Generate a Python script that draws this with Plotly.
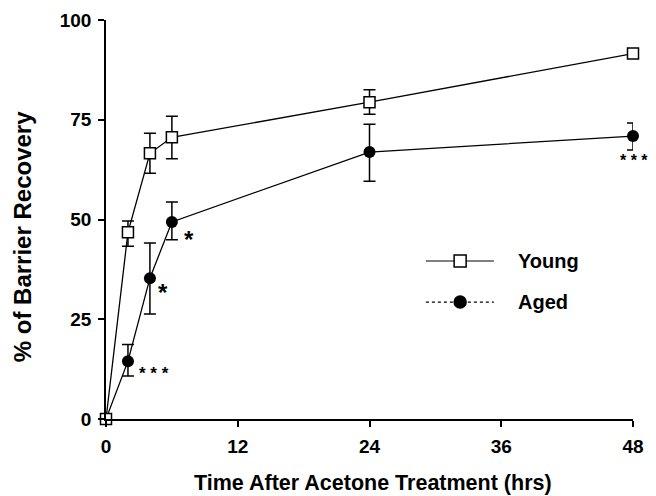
import plotly.graph_objects as go

hours = [0, 2, 4, 6, 24, 48]
young = [0, 46.8, 66.6, 70.6, 79.4, 91.6]
young_up = [0, 2.8, 5.0, 5.3, 3.1, 0]
young_dn = [0, 3.5, 5.0, 5.4, 3.0, 0]
aged = [0, 14.5, 35.3, 49.4, 66.9, 70.9]
aged_up = [0, 4.2, 8.8, 5.0, 7.0, 3.3]
aged_dn = [0, 3.7, 9.0, 4.5, 7.3, 3.5]

stars = ["* * *", "*", "*", "* * *"]
star_x = [2.8, 5.2, 7.6, 48]
star_y = [11.5, 31.8, 45.1, 64.9]
star_size = [17, 24, 24, 16]
star_anchor = ["left", "center", "center", "center"]
star_shift = [0, 0, 0, 1]

FONT = "Liberation Sans"

fig = go.Figure()
fig.add_trace(go.Scatter(
    x=hours, y=aged, mode="lines+markers", name="Aged",
    line=dict(color="black", width=1.3),
    marker=dict(symbol="circle", size=12, color="black"),
    error_y=dict(type="data", symmetric=False, array=aged_up, arrayminus=aged_dn,
                 color="black", thickness=1.5, width=6),
    cliponaxis=False, showlegend=False))
fig.add_trace(go.Scatter(
    x=hours, y=young, mode="lines+markers", name="Young",
    line=dict(color="black", width=1.3),
    marker=dict(symbol="square", size=11, color="white", line=dict(color="black", width=1.5)),
    error_y=dict(type="data", symmetric=False, array=young_up, arrayminus=young_dn,
                 color="black", thickness=1.5, width=6),
    cliponaxis=False, showlegend=False))

for t, xx, yy, sz, an, sh in zip(stars, star_x, star_y, star_size, star_anchor, star_shift):
    fig.add_annotation(x=xx, y=yy, xref="x", yref="y", text=t, showarrow=False,
                       xanchor=an, yanchor="middle", xshift=sh,
                       font=dict(family=FONT, size=sz, color="black", weight="bold"))

# manual legend
leg = [("Young", 0.396, "solid", "rect", "white"), ("Aged", 0.293, "dot", "circle", "black")]
for name, yy, dash, shp, fill in leg:
    fig.add_shape(type="line", xref="paper", yref="paper", x0=0.607, x1=0.736, y0=yy, y1=yy,
                  line=dict(color="black", width=1.2, dash=dash))
    fig.add_shape(type=shp, xref="paper", yref="paper", xsizemode="pixel", ysizemode="pixel",
                  xanchor=0.672, yanchor=yy, x0=-6, x1=6, y0=-6, y1=6,
                  fillcolor=fill, line=dict(color="black", width=1.5))
    fig.add_annotation(x=0.778, y=yy, xref="paper", yref="paper", text=name, showarrow=False,
                       xanchor="left", yanchor="middle",
                       font=dict(family=FONT, size=20, color="black", weight="bold"))

# axis titles
fig.add_annotation(x=0.507, y=-0.16, xref="paper", yref="paper",
                   text="Time After Acetone Treatment (hrs)", showarrow=False,
                   xanchor="center", yanchor="middle",
                   font=dict(family=FONT, size=21.5, color="black", weight="bold"))
fig.add_annotation(x=-0.159, y=0.456, xref="paper", yref="paper",
                   text="% of Barrier Recovery", showarrow=False, textangle=-90,
                   xanchor="center", yanchor="middle",
                   font=dict(family=FONT, size=24, color="black", weight="bold"))

axis_font = dict(family=FONT, size=19, color="black", weight="bold")
# page body has an 8px margin, so the figure is 648x488 and offset by 8px
fig.update_layout(
    width=648, height=488,
    margin=dict(l=98, r=23, t=12, b=77),
    paper_bgcolor="white", plot_bgcolor="white",
    xaxis=dict(range=[0, 48], tickvals=[0, 12, 24, 36, 48], showline=True, linecolor="black",
               linewidth=1.5, ticks="outside", ticklen=6, tickwidth=1.5, tickcolor="black",
               showgrid=False, zeroline=False, tickfont=axis_font, automargin=False,
               ticklabelstandoff=3),
    yaxis=dict(range=[0, 100], tickvals=[0, 25, 50, 75, 100], showline=True, linecolor="black",
               linewidth=1.5, ticks="outside", ticklen=6, tickwidth=1.5, tickcolor="black",
               showgrid=False, zeroline=False, tickfont=axis_font, automargin=False,
               ticklabelstandoff=3),
)

fig.write_html("out.html")
